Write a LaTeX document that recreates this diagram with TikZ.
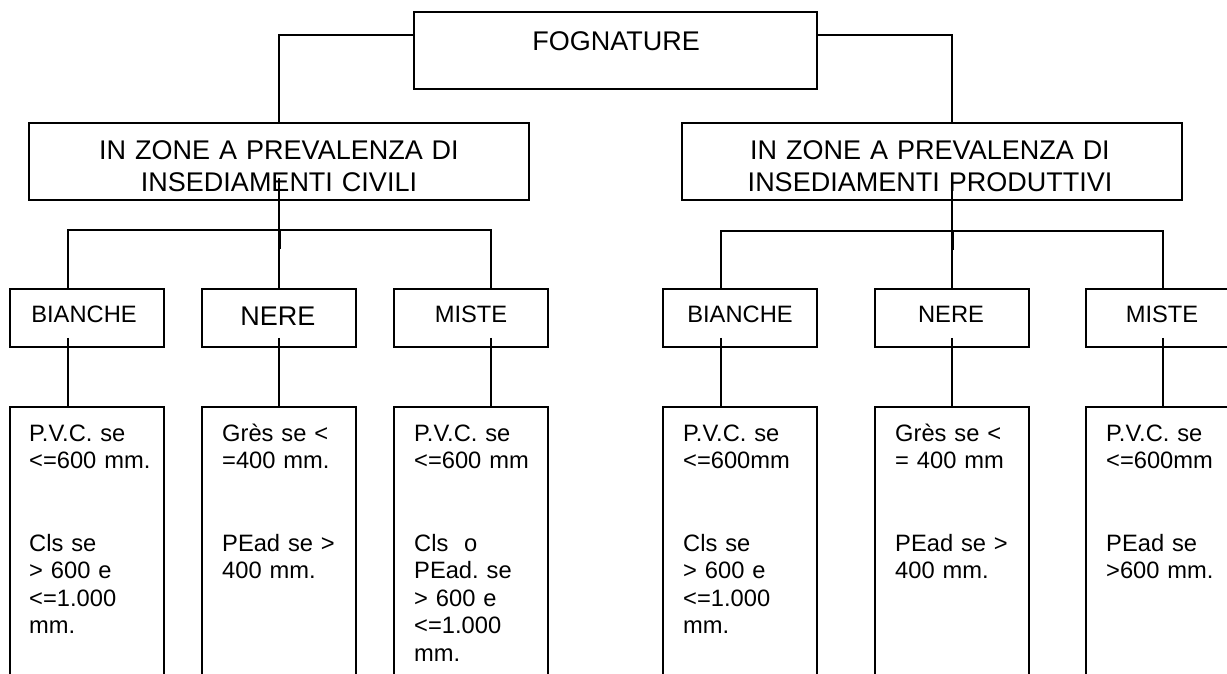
\documentclass[tikz,border=0pt]{standalone}
\usepackage{fontspec}
\setmainfont{Liberation Sans}
\frenchspacing
\begin{document}
\begin{tikzpicture}[x=1pt,y=-1pt,
  box/.style={draw, rectangle, line width=1.8pt, inner sep=0pt},
  conn/.style={line width=1.5pt},
  bigtxt/.style={font=\fontsize{27}{32}\selectfont, inner sep=0pt},
  smalltxt/.style={font=\fontsize{23.7}{27.5}\selectfont, inner sep=0pt},
  mattxt/.style={smalltxt, anchor=north west, text width=140pt, align=left},
  cat/.style={box, minimum width=154pt, minimum height=58pt},
  mat/.style={box, minimum width=154pt, minimum height=293pt}]
\useasboundingbox (0,0) rectangle (1227,674);
\fill[white] (0,0) rectangle (1227,674);

% boxes
\node[box, minimum width=403pt, minimum height=77pt] (fog) at (615.5,50.5) {};
\node[box, minimum width=500pt, minimum height=77pt] (civ) at (279,161.5) {};
\node[box, minimum width=500pt, minimum height=77pt] (prod) at (932,161.5) {};

\node[cat] (bianL) at (87,318) {};
\node[cat] (nereL) at (279,318) {};
\node[cat] (misL) at (471,318) {};
\node[cat] (bianR) at (740,318) {};
\node[cat] (nereR) at (952,318) {};
\node[cat] (misR) at (1163,318) {};

\node[mat] (matBL) at (87,553.5) {};
\node[mat] (matNL) at (279,553.5) {};
\node[mat] (matML) at (471,553.5) {};
\node[mat] (matBR) at (740,553.5) {};
\node[mat] (matNR) at (952,553.5) {};
\node[mat] (matMR) at (1163,553.5) {};

% labels
\node[bigtxt, anchor=base] (tfog) at (616,50.5) {FOGNATURE};
\node[bigtxt, text width=480pt, align=center, anchor=north] (tciv) at (279,137.7)
  {\rule{0pt}{22pt}IN ZONE A PREVALENZA DI\\INSEDIAMENTI CIVILI};
\node[bigtxt, text width=480pt, align=center, anchor=north] (tprod) at (930,137.7)
  {\rule{0pt}{22pt}IN ZONE A PREVALENZA DI\\INSEDIAMENTI PRODUTTIVI};

\node[smalltxt, anchor=base] (tbianL) at (84,322.5) {BIANCHE};
\node[bigtxt, anchor=base] (tnereL) at (278,325) {NERE};
\node[smalltxt, anchor=base] (tmisL) at (471,322.5) {MISTE};
\node[smalltxt, anchor=base] (tbianR) at (740,322.5) {BIANCHE};
\node[smalltxt, anchor=base] (tnereR) at (951,322.5) {NERE};
\node[smalltxt, anchor=base] (tmisR) at (1162,322.5) {MISTE};

% material texts (first baseline 441, pitch 27.5)
\node[mattxt] (mBL) at (29,421) {\rule{0pt}{20pt}P.V.C. se\\<=600 mm.\\[55pt]Cls se\\> 600 e\\<=1.000\\mm.};
\node[mattxt] (mNL) at (222,421) {\rule{0pt}{20pt}Grès se <\\=400 mm.\\[55pt]PEad se >\\400 mm.};
\node[mattxt] (mML) at (414,421) {\rule{0pt}{20pt}P.V.C. se\\<=600 mm\\[55pt]Cls\ \ o\\PEad. se\\> 600 e\\<=1.000\\mm.};
\node[mattxt] (mBR) at (683,421) {\rule{0pt}{20pt}P.V.C. se\\<=600mm\\[55pt]Cls se\\> 600 e\\<=1.000\\mm.};
\node[mattxt] (mNR) at (895,421) {\rule{0pt}{20pt}Grès se <\\= 400 mm\\[55pt]PEad se >\\400 mm.};
\node[mattxt] (mMR) at (1106,421) {\rule{0pt}{20pt}P.V.C. se\\<=600mm\\[55pt]PEad se\\>600 mm.};

% connectors
\draw[conn] ([yshift=15.5pt]fog.west) -| (civ.north);
\draw[conn] ([yshift=15.5pt]fog.east) -| ([xshift=20pt]prod.north);

\coordinate (barL) at (279,230);
\coordinate (barR) at (952,231);

\draw[conn] ([yshift=23pt]civ.south) -- (nereL.north);
\draw[line width=3pt] (barL) -- ++(0,19);
\draw[conn] ([xshift=-19pt]bianL.north) |- (barL) -| ([xshift=20pt]misL.north);

\draw[conn] ([xshift=20pt,yshift=23pt]prod.south) -- (nereR.north);
\draw[line width=3pt] (barR) -- ++(0,19);
\draw[conn] ([xshift=-19pt]bianR.north) |- (barR) -| (misR.north);

\draw[conn] ([xshift=-19pt,yshift=10pt]bianL.south) -- ([xshift=-19pt]matBL.north);
\draw[conn] ([yshift=10pt]nereL.south) -- (matNL.north);
\draw[conn] ([xshift=20pt,yshift=10pt]misL.south) -- ([xshift=20pt]matML.north);
\draw[conn] ([xshift=-19pt,yshift=10pt]bianR.south) -- ([xshift=-19pt]matBR.north);
\draw[conn] ([yshift=10pt]nereR.south) -- (matNR.north);
\draw[conn] ([yshift=10pt]misR.south) -- (matMR.north);
\end{tikzpicture}
\end{document}
